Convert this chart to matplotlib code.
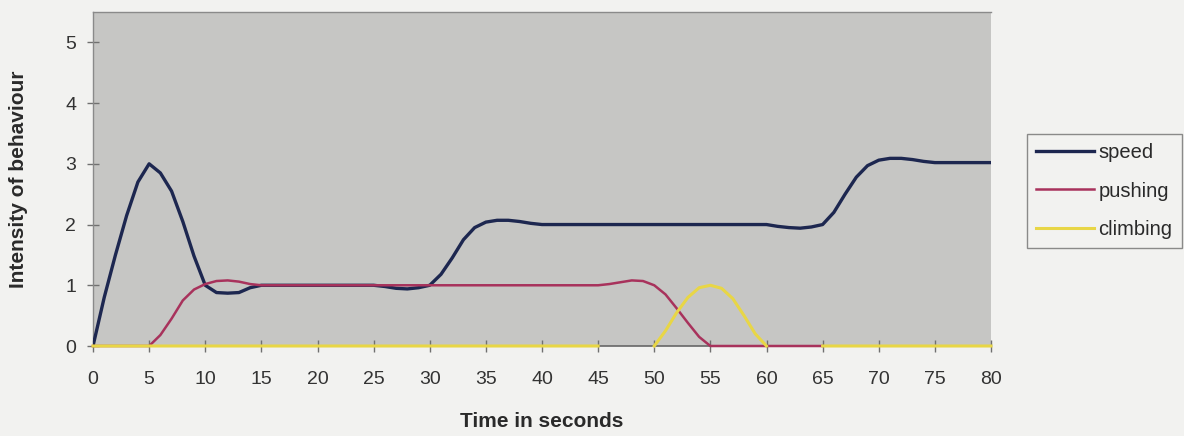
import numpy as np
import matplotlib
matplotlib.use("Agg")
import matplotlib.pyplot as plt

nan = np.nan

# Time axis (seconds) and behaviour intensities sampled once per second
time_s = list(range(0, 81))

speed = [
    0.0, 0.8, 1.5, 2.15, 2.7, 3.0, 2.85, 2.55, 2.05, 1.48,   # 0-9
    1.0, 0.88, 0.87, 0.88, 0.96, 1.0, 1.0, 1.0, 1.0, 1.0,    # 10-19
    1.0, 1.0, 1.0, 1.0, 1.0, 1.0, 0.98, 0.95, 0.94, 0.96,    # 20-29
    1.0, 1.18, 1.45, 1.75, 1.95, 2.04, 2.07, 2.07, 2.05, 2.02,  # 30-39
    2.0, 2.0, 2.0, 2.0, 2.0, 2.0, 2.0, 2.0, 2.0, 2.0,        # 40-49
    2.0, 2.0, 2.0, 2.0, 2.0, 2.0, 2.0, 2.0, 2.0, 2.0,        # 50-59
    2.0, 1.97, 1.95, 1.94, 1.96, 2.0, 2.2, 2.5, 2.78, 2.97,  # 60-69
    3.06, 3.09, 3.09, 3.07, 3.04, 3.02, 3.02, 3.02, 3.02, 3.02,  # 70-79
    3.02,                                                    # 80
]

pushing = [
    0.0, 0.0, 0.0, 0.0, 0.0, 0.0, 0.18, 0.45, 0.75, 0.93,    # 0-9
    1.02, 1.07, 1.08, 1.06, 1.02, 1.0, 1.0, 1.0, 1.0, 1.0,   # 10-19
    1.0, 1.0, 1.0, 1.0, 1.0, 1.0, 1.0, 1.0, 1.0, 1.0,        # 20-29
    1.0, 1.0, 1.0, 1.0, 1.0, 1.0, 1.0, 1.0, 1.0, 1.0,        # 30-39
    1.0, 1.0, 1.0, 1.0, 1.0, 1.0, 1.02, 1.05, 1.08, 1.07,    # 40-49
    1.0, 0.85, 0.62, 0.38, 0.15, 0.0, 0.0, 0.0, 0.0, 0.0,    # 50-59
    0.0, 0.0, 0.0, 0.0, 0.0, 0.0, nan, nan, nan, nan,        # 60-69
    nan, nan, nan, nan, nan, nan, nan, nan, nan, nan,        # 70-79
    nan,                                                     # 80
]

climbing = [
    0.0, 0.0, 0.0, 0.0, 0.0, 0.0, 0.0, 0.0, 0.0, 0.0,        # 0-9
    0.0, 0.0, 0.0, 0.0, 0.0, 0.0, 0.0, 0.0, 0.0, 0.0,        # 10-19
    0.0, 0.0, 0.0, 0.0, 0.0, 0.0, 0.0, 0.0, 0.0, 0.0,        # 20-29
    0.0, 0.0, 0.0, 0.0, 0.0, 0.0, 0.0, 0.0, 0.0, 0.0,        # 30-39
    0.0, 0.0, 0.0, 0.0, 0.0, 0.0, nan, nan, nan, nan,        # 40-49
    0.0, 0.25, 0.55, 0.8, 0.96, 1.0, 0.95, 0.78, 0.5, 0.2,   # 50-59
    0.0, nan, nan, nan, nan, 0.0, 0.0, 0.0, 0.0, 0.0,        # 60-69
    0.0, 0.0, 0.0, 0.0, 0.0, 0.0, 0.0, 0.0, 0.0, 0.0,        # 70-79
    0.0,                                                     # 80
]

x_ticks = list(range(0, 81, 5))
y_ticks = [0, 1, 2, 3, 4, 5]

plt.rcParams['font.family'] = ['Liberation Sans', 'DejaVu Sans']

fig = plt.figure(figsize=(11.84, 4.36), dpi=100, facecolor='#f2f2f0')
ax = fig.add_axes([93 / 1184, 90 / 436, 898 / 1184, 334 / 436])
ax.set_facecolor('#c6c6c4')

ax.plot(time_s, speed, color='#1d2750', lw=2.4, label='speed',
        solid_joinstyle='round', zorder=3)
ax.plot(time_s, pushing, color='#a8325c', lw=1.8, label='pushing',
        clip_on=False, zorder=4)
ax.plot(time_s, climbing, color='#e8d646', lw=2.2, label='climbing',
        clip_on=False, zorder=5)

ax.set_xlim(0, 80)
ax.set_ylim(0, 5.5)
ax.set_xticks(x_ticks)
ax.set_yticks(y_ticks)

for side in ['top', 'left']:
    ax.spines[side].set_color('#8a8a8a')
    ax.spines[side].set_linewidth(1.0)
ax.spines['bottom'].set_color('#666666')
ax.spines['bottom'].set_linewidth(1.2)
ax.spines['right'].set_visible(False)

ax.tick_params(axis='x', direction='inout', length=8, width=1,
               color='#707070', labelsize=14, pad=14, labelcolor='#333333')
ax.tick_params(axis='y', direction='inout', length=8, width=1,
               color='#707070', labelsize=14, pad=8, labelcolor='#333333')

ax.set_xlabel('Time in seconds', fontsize=15, fontweight='bold',
              color='#2a2a2a', labelpad=17)
ax.set_ylabel('Intensity of behaviour', fontsize=15, fontweight='bold',
              color='#2a2a2a', labelpad=27)

leg = ax.legend(loc='center left', bbox_to_anchor=(1027 / 1184, 1 - 191 / 436),
                bbox_transform=fig.transFigure, fontsize=14.5, frameon=True,
                fancybox=False, edgecolor='#707070', facecolor='#f2f2f0',
                handlelength=2.9, handletextpad=0.2, labelspacing=0.95,
                borderpad=0.45, borderaxespad=0.0)
leg.get_frame().set_linewidth(1.0)
for txt in leg.get_texts():
    txt.set_color('#2a2a2a')

fig.savefig('out.png', dpi=100, facecolor=fig.get_facecolor())
